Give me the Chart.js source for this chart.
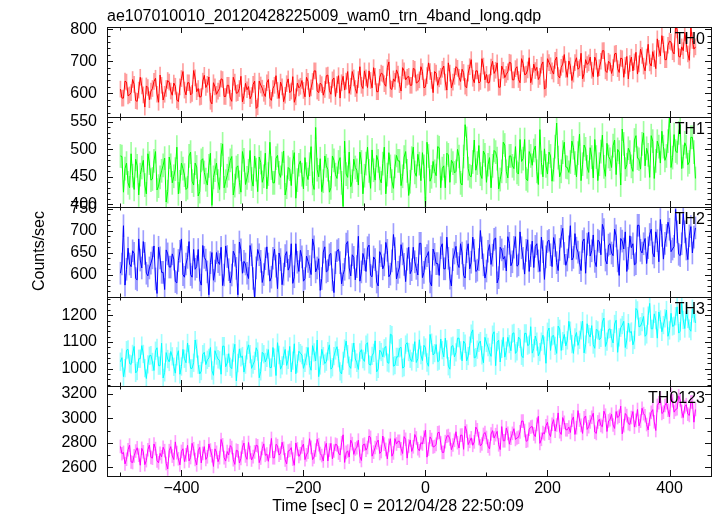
<!DOCTYPE html>
<html>
<head>
<meta charset="utf-8">
<script src="https://cdn.jsdelivr.net/npm/chart.js@4/dist/chart.umd.min.js"></script>
<style>
    html, body { margin: 0; padding: 0; background: #fff; }
    #wrap { position: relative; width: 717px; height: 516px; }
    #wrap canvas { position: absolute; left: 0; top: 0; }
</style>
</head>
<body>
<div id="wrap">
    <canvas id="th0" width="717" height="516"></canvas>
    <canvas id="th1" width="717" height="516"></canvas>
    <canvas id="th2" width="717" height="516"></canvas>
    <canvas id="th3" width="717" height="516"></canvas>
    <canvas id="th0123" width="717" height="516"></canvas>
</div>
<script>
const titleText = "ae107010010_20120428225009_wam0_trn_4band_long.qdp";
const xTitle = "Time [sec] 0 = 2012/04/28 22:50:09";
const yTitle = "Counts/sec";

// 2.5 s bins starting at -500 s
const binStart = -500;
const binWidth = 2.5;

const th0Rates = [
    613,585, 585,638, 635,592, 595,602, 643,628, 577,575, 610,650, 623,595, 557,623, 618,580,
    607,615, 637,647, 597,572, 657,625, 579,597, 615,640, 635,607, 594,632, 622,579, 574,620,
    646,668, 610,595, 633,633, 595,600, 671,648, 605,615, 588,590, 638,656, 618,628, 651,575,
    567,633, 620,597, 607,615, 645,643, 590,590, 625,625, 585,575, 650,635, 600,602, 615,653,
    573,593, 631,611, 621,583, 593,628, 638,553, 558,638, 626,616, 600,590, 633,643, 585,578,
    615,625, 655,609, 584,635, 620,574, 594,630, 645,602, 607,652, 572,589, 632,617, 622,640,
    609,589, 650,637, 589,617, 637,670, 670,607, 602,632, 627,594, 612,655, 657,609, 597,642,
    648,590, 627,655, 585,633, 653,610, 638,668, 600,622, 668,648, 615,600, 643,683, 625,615,
    670,648, 618,670, 640,617, 680,653, 605,605, 650,663, 660,630, 622,680, 698,615, 612,645,
    637,673, 660,627, 607,680, 670,642, 650,653, 625,625, 678,675, 632,635, 642,683, 668,617,
    620,655, 695,668, 640,602, 668,663, 625,645, 653,675, 685,635, 610,695, 663,617, 635,653,
    683,678, 650,637, 675,665, 622,617, 663,683, 705,647, 633,670, 670,632, 637,708, 685,642,
    659,632, 634,682, 700,662, 672,695, 619,619, 685,672, 649,659, 667,697, 695,642, 642,677,
    683,643, 633,708, 693,658, 660,673, 711,633, 653,691, 671,681, 643,653, 688,698, 613,618,
    708,696, 686,670, 660,703, 713,655, 648,681, 691,721, 675,650, 701,686, 640,660, 696,711,
    675,680, 725,645, 662,705, 690,695, 713,672, 652,713, 700,652, 680,700, 733,733, 670,665,
    700,695, 662,680, 723,725, 677,665, 710,708, 650,687, 715,645, 693,713, 670,698, 728,660,
    692,738, 718,685, 670,713, 753,695, 685,730, 708,677, 770,740, 717,780, 753,705, 705,750,
    763,760, 730,723, 812,798, 715,713, 745,733, 790,755, 723,703, 805,765, 738,745
];
const th1Rates = [
    488,487, 422,465, 475,439, 430,492, 452,427, 482,470, 417,454, 467,480, 435,419, 492,475,
    444,446, 479,496, 426,433, 449,461, 471,484, 404,423, 486,471, 439,451, 464,504, 419,441,
    475,465, 453,427, 430,488, 495,442, 435,475, 468,415, 423,480, 483,458, 445,435, 470,493,
    398,449, 462,475, 442,427, 490,510, 430,442, 452,465, 480,487, 417,434, 467,470, 440,422,
    496,481, 436,448, 461,498, 446,433, 488,463, 423,486, 476,440, 451,493, 428,455, 513,466,
    439,439, 484,489, 457,449, 474,497, 417,431, 467,464, 434,477, 494,411, 444,472, 479,454,
    428,485, 455,445, 473,505, 438,427, 540,463, 450,483, 423,442, 488,470, 463,422, 430,488,
    480,454, 447,477, 485,439, 396,515, 455,449, 495,432, 442,482, 467,462, 435,495, 477,419,
    452,474, 504,461, 429,499, 462,444, 489,479, 447,439, 474,504, 419,454, 494,469, 442,429,
    469,489, 479,479, 434,451, 486,496, 461,416, 441,484, 504,458, 451,491, 474,443, 494,469,
    392,513, 488,442, 450,478, 460,452, 505,503, 430,465, 470,430, 493,490, 440,480, 475,457,
    460,500, 487,439, 435,487, 545,520, 465,452, 450,477, 517,462, 475,507, 455,447, 497,490,
    440,472, 485,430, 470,498, 495,483, 428,445, 460,513, 508,460, 448,488, 488,470, 465,505,
    458,455, 518,478, 483,518, 446,443, 496,488, 471,498, 506,460, 436,536, 476,450, 501,470,
    455,495, 488,442, 463,505, 548,485, 450,460, 495,513, 468,467, 458,477, 515,503, 475,450,
    493,528, 443,473, 508,501, 468,458, 503,486, 448,518, 486,443, 473,496, 526,468, 451,511,
    487,482, 467,507, 517,454, 500,495, 435,537, 510,464, 472,502, 495,469, 460,517, 525,484,
    482,464, 510,530, 470,502, 490,449, 525,515, 447,479, 515,505, 475,533, 505,480, 488,515,
    562,467, 485,527, 497,494, 530,545, 465,487, 512,505, 472,477, 522,522, 495,447
];
const th2Rates = [
    604,625, 712,577, 613,661, 625,619, 655,649, 592,589, 682,634, 616,676, 649,604, 598,616,
    627,639, 666,591, 558,663, 639,606, 606,567, 657,648, 618,618, 648,636, 585,582, 633,654,
    682,601, 595,625, 640,676, 601,595, 658,613, 619,658, 589,577, 667,640, 634,607, 555,628,
    651,588, 609,651, 630,624, 663,576, 600,666, 642,612, 582,600, 654,645, 615,555, 675,657,
    604,631, 625,604, 592,667, 646,592, 546,616, 658,646, 631,583, 601,637, 664,625, 586,595,
    638,659, 620,569, 650,635, 578,602, 644,653, 611,620, 671,581, 596,671, 629,608, 656,641,
    586,592, 643,631, 619,601, 682,664, 607,616, 637,565, 592,652, 664,607, 610,646, 649,589,
    560,628, 655,658, 628,580, 601,613, 670,676, 616,598, 646,640, 589,619, 688,586, 607,649,
    635,608, 662,668, 599,596, 641,635, 584,575, 653,644, 614,623, 674,656, 596,602, 632,692,
    660,591, 606,618, 669,648, 624,585, 636,663, 603,612, 663,630, 615,600, 672,672, 594,606,
    638,644, 653,584, 575,659, 647,626, 626,599, 662,671, 614,614, 686,638, 593,575, 635,650,
    665,626, 617,671, 650,599, 593,653, 671,614, 629,686, 656,608, 611,635, 701,662, 623,593,
    609,654, 669,624, 645,681, 684,582, 594,663, 657,636, 642,609, 687,672, 621,630, 663,687,
    620,623, 698,662, 638,602, 656,680, 608,644, 677,617, 665,671, 632,608, 686,653, 590,641,
    676,679, 646,619, 685,667, 628,610, 658,688, 706,649, 622,634, 664,712, 634,640, 694,661,
    652,628, 610,676, 682,604, 670,697, 643,655, 691,631, 619,679, 676,646, 715,703, 634,625,
    668,671, 650,644, 704,689, 632,599, 683,677, 659,698, 608,638, 689,662, 671,623, 626,713,
    713,656, 650,671, 683,626, 662,692, 704,650, 641,698, 678,630, 726,690, 636,672, 690,720,
    704,653, 659,665, 749,698, 647,644, 671,740, 698,659, 635,689, 710,650, 686,707
];
const th3Rates = [
    1026,1041, 970,1002, 1069,1072, 1019,1016, 1055,1083, 984,991, 1037,1037, 1086,1055, 1002,963, 1016,1048,
    1050,1025, 993,1067, 1078,1011, 1011,1095, 965,986, 1060,1036, 1025,1064, 1046,1007, 983,1046, 1067,979,
    1008,1072, 1037,1022, 1096,1054, 1001,1001, 1022,1107, 1075,1015, 980,991, 1054,1061, 1015,1033, 1040,1079,
    993,975, 1067,1049, 1035,1031, 979,1084, 1084,1007, 1021,1056, 1007,1000, 1060,1091, 954,1021, 1074,1042,
    1047,987, 1015,1068, 1089,1054, 1001,1015, 1029,1078, 1064,966, 990,1061, 1054,1025, 1040,1071, 1004,1004,
    1079,1041, 974,1097, 1051,998, 1012,1048, 1072,1012, 1033,1083, 988,1030, 1093,981, 1019,1065, 1058,1051,
    1001,1022, 1047,1079, 1012,994, 1086,1061, 1029,1107, 970,1012, 1072,1047, 1019,1026, 1065,1089, 998,1005,
    1047,1068, 1082,1039, 990,980, 1029,1075, 1103,1054, 1011,1001, 1061,1096, 1036,1022, 997,1061, 1071,1036,
    1027,1090, 1097,1016, 1013,1048, 1059,1104, 988,999, 1069,1062, 1044,1076, 1083,1023, 1020,1129, 1125,1009,
    1013,1044, 1044,1076, 1080,1002, 1006,1090, 1097,1062, 1037,1027, 1059,1101, 1023,1037, 1108,1051, 1030,1087,
    1079,1023, 1009,1128, 1097,1051, 1058,1090, 1026,1030, 1111,1069, 1044,1114, 1072,1009, 998,1083, 1086,1044,
    1061,1114, 1114,1068, 1029,1103, 1093,1029, 1047,1086, 1131,1145, 1040,1043, 1071,1096, 1103,1050, 1022,1117,
    1096,1081, 1060,1046, 1127,1138, 1011,1099, 1106,1025, 1074,1117, 1043,1067, 1117,1092, 1067,1131, 1134,1057,
    1065,1118, 1111,1048, 1041,1132, 1132,1086, 1090,1157, 1058,1076, 1122,1101, 1048,1062, 1101,1125, 1086,1020,
    1138,1152, 1068,1121, 1124,1085, 1057,1159, 1149,1068, 1103,1128, 1085,1106, 1177,1142, 1092,1057, 1117,1135,
    1087,1108, 1143,1178, 1059,1090, 1168,1129, 1118,1161, 1090,1076, 1147,1143, 1108,1115, 1175,1189, 1083,1101,
    1146,1149, 1114,1096, 1167,1181, 1061,1117, 1153,1163, 1177,1079, 1107,1170, 1135,1139, 1089,1107, 1225,1218,
    1156,1159, 1174,1195, 1121,1128, 1198,1244, 1149,1149, 1205,1181, 1114,1212, 1184,1138, 1163,1188, 1219,1121,
    1143,1207, 1158,1161, 1196,1231, 1133,1140, 1245,1182, 1150,1214, 1186,1150, 1140,1224, 1207,1171
];
const th0123Rates = [
    2771,2711, 2722,2628, 2666,2744, 2782,2644, 2639,2694, 2733,2760, 2699,2617, 2755,2727, 2622,2655, 2744,2782,
    2681,2675, 2791,2753, 2653,2637, 2714,2686, 2764,2736, 2631,2587, 2736,2769, 2692,2664, 2808,2720, 2670,2620,
    2730,2752, 2647,2702, 2780,2653, 2680,2796, 2752,2664, 2620,2736, 2763,2636, 2714,2769, 2664,2686, 2791,2741,
    2695,2607, 2751,2723, 2646,2679, 2828,2784, 2679,2651, 2729,2701, 2778,2762, 2662,2624, 2740,2734, 2635,2673,
    2765,2798, 2693,2665, 2803,2721, 2660,2687, 2726,2781, 2776,2638, 2676,2754, 2792,2698, 2709,2649, 2732,2836,
    2678,2678, 2788,2777, 2700,2716, 2805,2755, 2661,2628, 2733,2739, 2761,2667, 2617,2799, 2750,2689, 2711,2766,
    2790,2663, 2702,2724, 2834,2763, 2663,2685, 2741,2829, 2785,2713, 2696,2652, 2757,2796, 2652,2741, 2796,2669,
    2733,2789, 2783,2717, 2700,2800, 2866,2640, 2722,2733, 2684,2822, 2794,2706, 2750,2761, 2822,2689, 2656,2783,
    2790,2740, 2762,2856, 2845,2691, 2724,2762, 2801,2823, 2713,2729, 2856,2790, 2746,2669, 2779,2834, 2691,2718,
    2835,2791, 2813,2813, 2752,2713, 2851,2829, 2675,2774, 2824,2730, 2768,2868, 2840,2752, 2735,2802, 2791,2846,
    2904,2683, 2749,2849, 2827,2766, 2771,2788, 2882,2887, 2799,2722, 2722,2810, 2854,2860, 2832,2744, 2782,2821,
    2891,2802, 2758,2863, 2863,2747, 2935,2896, 2786,2813, 2841,2780, 2808,2929, 2907,2836, 2775,2791, 2869,2885,
    2844,2773, 2751,2872, 2900,2839, 2867,2894, 2784,2745, 2933,2817, 2817,2922, 2878,2789, 2839,2878, 2916,2828,
    2840,2846, 2890,2978, 2978,2901, 2813,2818, 2912,2929, 2934,2873, 2851,2951, 3017,2796, 2829,2884, 2873,2940,
    2968,2880, 2852,2952, 2990,2896, 2946,3045, 2891,2869, 3007,2968, 2907,2907, 2929,2885, 2985,3012, 2869,2924,
    3064,2987, 2943,2877, 3004,3020, 2910,2932, 2971,3009, 3042,2888, 2877,2971, 2993,2943, 2932,3059, 3026,2893,
    2979,2990, 3034,2946, 2918,3056, 3007,3018, 3100,2874, 2940,3040, 3023,2957, 2951,3007, 3056,2929, 2984,3073,
    2939,2978, 3083,3039, 3022,2950, 2906,2994, 3050,3072, 2972,2901, 3106,3128, 3167,3040, 3051,3106, 3128,3067,
    3013,3195, 3145,3051, 3073,3079, 3184,3151, 3057,3007, 3096,3112, 3035,3024, 3134,3134, 2969,3073
];

// 1-sigma error of each bin, counts/sec
const th0Err = 25;
const th1Err = 21;
const th2Err = 25;
const th3Err = 33;
const th0123Err = 53;

// labelled tick values
const th0Ticks = [600, 700, 800];
const th1Ticks = [400, 450, 500, 550];
const th2Ticks = [600, 650, 700, 750];
const th3Ticks = [1000, 1100, 1200];
const th0123Ticks = [2600, 2800, 3000, 3200];
const xTicks = [-400, -200, 0, 200, 400];
const xMinorTicks = [-500, -300, -100, 100, 300];

const FONT = '"Liberation Sans", Arial, Helvetica, sans-serif';

const panels = [
    { id: "th0", name: "TH0", rates: th0Rates, err: th0Err, ticks: th0Ticks, color: "#ff0000", light: "rgba(255,0,0,0.38)", min: 526, max: 807, minor: 20, top: 27, bottom: 117 },
    { id: "th1", name: "TH1", rates: th1Rates, err: th1Err, ticks: th1Ticks, color: "#00ff00", light: "rgba(0,255,0,0.38)", min: 395, max: 559, minor: 10, top: 117, bottom: 207 },
    { id: "th2", name: "TH2", rates: th2Rates, err: th2Err, ticks: th2Ticks, color: "#0000ff", light: "rgba(0,0,255,0.38)", min: 550, max: 754.5, minor: 12.5, top: 207, bottom: 297 },
    { id: "th3", name: "TH3", rates: th3Rates, err: th3Err, ticks: th3Ticks, color: "#00ffff", light: "rgba(0,255,255,0.38)", min: 935, max: 1268, minor: 20, top: 297, bottom: 386 },
    { id: "th0123", name: "TH0123", rates: th0123Rates, err: th0123Err, ticks: th0123Ticks, color: "#ff00ff", light: "rgba(255,0,255,0.38)", min: 2529, max: 3265, minor: 100, top: 386, bottom: 476 }
];

const fmt = (v) => (v < 0 ? "\u2212" + Math.abs(v) : String(v));

const stepTicks = (min, max, step) => {
    const out = [];
    for (let v = Math.ceil(min / step) * step; v <= max + 1e-9; v += step) {
        out.push({ value: +v.toFixed(3) });
    }
    return out;
};

// QDP style frame: box, inward ticks on all four sides, panel name and free texts
const qdpFrame = {
    id: "qdpFrame",
    afterDatasetsDraw(chart, args, opts) {
        const { ctx, chartArea: a } = chart;
        const x = chart.scales.x;
        const y = chart.scales.y;
        ctx.save();
        ctx.strokeStyle = "#111";
        ctx.lineWidth = 1;
        ctx.beginPath();
        y.ticks.forEach(t => {
            const py = Math.round(y.getPixelForValue(t.value)) + 0.5;
            const len = opts.labels.includes(t.value) ? 6 : 3.5;
            ctx.moveTo(a.left, py);
            ctx.lineTo(a.left + len, py);
            ctx.moveTo(a.right, py);
            ctx.lineTo(a.right - len, py);
        });
        xTicks.concat(xMinorTicks).forEach(v => {
            const px = Math.round(x.getPixelForValue(v)) + 0.5;
            const len = xTicks.includes(v) ? 6 : 3.5;
            ctx.moveTo(px, a.top);
            ctx.lineTo(px, a.top + len);
            ctx.moveTo(px, a.bottom);
            ctx.lineTo(px, a.bottom - len);
        });
        ctx.stroke();
        ctx.strokeRect(Math.round(a.left) + 0.5, Math.round(a.top) + 0.5,
            Math.round(a.right - a.left), Math.round(a.bottom - a.top));

        ctx.fillStyle = "#000";
        ctx.font = "16px " + FONT;
        ctx.textBaseline = "alphabetic";
        ctx.textAlign = "right";
        ctx.fillText(opts.name, a.right - 6, a.top + 16.5);

        (opts.texts || []).forEach(t => {
            ctx.save();
            ctx.textAlign = t.align;
            if (t.rotate) {
                ctx.translate(t.x, t.y);
                ctx.rotate(-Math.PI / 2);
                ctx.textBaseline = "middle";
                ctx.fillText(t.text, 0, 0);
            } else {
                ctx.fillText(t.text, t.x, t.y);
            }
            ctx.restore();
        });
        ctx.restore();
    }
};

const makeChart = (p, index) => {
    const last = index === panels.length - 1;
    const times = p.rates.map((_, i) => binStart + i * binWidth);
    const texts = [];
    if (index === 0) {
        texts.push({ text: titleText, x: 107, y: 21, align: "left" });
    }
    if (index === 2) {
        texts.push({ text: yTitle, x: 40, y: 251, align: "center", rotate: true });
    }
    if (last) {
        texts.push({ text: xTitle, x: 398, y: 511, align: "center" });
    }

    new Chart(document.getElementById(p.id), {
        type: "line",
        data: {
            datasets: [
                {
                    data: p.rates.map((v, i) => ({ x: times[i], y: v })),
                    borderColor: p.color,
                    borderWidth: 1,
                    pointRadius: 0,
                    tension: 0
                },
                {
                    type: "bar",
                    data: p.rates.map((v, i) => ({ x: times[i], y: [v - p.err, v + p.err] })),
                    backgroundColor: p.light,
                    borderWidth: 0,
                    barThickness: 1,
                    grouped: false
                }
            ]
        },
        options: {
            responsive: false,
            animation: false,
            devicePixelRatio: 1,
            events: [],
            layout: {
                padding: { left: 0, right: 6, top: p.top, bottom: last ? 0 : 516 - p.bottom }
            },
            scales: {
                x: {
                    type: "linear",
                    min: -522,
                    max: 468,
                    offset: false,
                    display: last,
                    grid: { display: false, drawTicks: false },
                    border: { display: false },
                    afterBuildTicks: (s) => { s.ticks = xTicks.map(value => ({ value })); },
                    afterFit: (s) => { s.height = last ? 40 : 0; },
                    ticks: {
                        autoSkip: false,
                        maxRotation: 0,
                        padding: 3,
                        color: "#000",
                        font: { family: FONT, size: 16 },
                        callback: (v) => fmt(v)
                    }
                },
                y: {
                    type: "linear",
                    min: p.min,
                    max: p.max,
                    grid: { display: false, drawTicks: false },
                    border: { display: false },
                    afterBuildTicks: (s) => { s.ticks = stepTicks(p.min, p.max, p.minor); },
                    afterFit: (s) => { s.width = 107; },
                    ticks: {
                        autoSkip: false,
                        padding: 10,
                        color: "#000",
                        font: { family: FONT, size: 16 },
                        callback: (v) => (p.ticks.includes(v) ? String(v) : "")
                    }
                }
            },
            plugins: {
                legend: { display: false },
                tooltip: { enabled: false },
                qdpFrame: { name: p.name, labels: p.ticks, texts }
            }
        },
        plugins: [qdpFrame]
    });
};

panels.forEach(makeChart);
</script>
</body>
</html>
